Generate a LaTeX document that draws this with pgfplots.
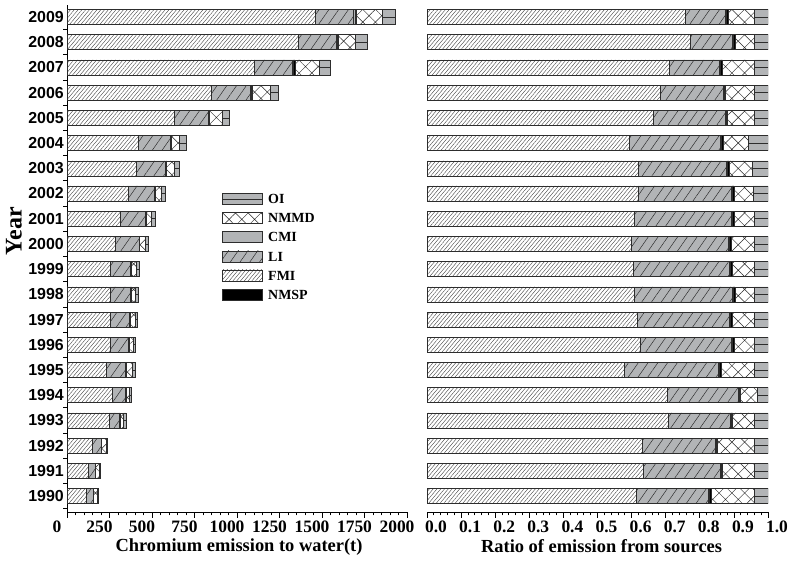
\documentclass[border=0pt]{standalone}
\usepackage{pgfplots}
\pgfplotsset{compat=1.18}
\usepackage{pgfplotstable}
\usetikzlibrary{patterns.meta}
\usepackage{fontspec}
\setmainfont{Liberation Serif}
\newfontfamily\arialf{Liberation Sans}

\definecolor{barg}{RGB}{178,180,182}
\definecolor{edge}{RGB}{45,45,45}

% Chromium emission to water (t)
\pgfplotstableread{
year FMI LI CMI NMSP NMMD OI
1990 113 39 1 1 23 7
1991 123 44 1 1 18 8
1992 150 50 1 1 26 9
1993 246 63 1 1 22 14
1994 266 79 1 2 19 12
1995 232 111 2 2 39 16
1996 253 107 2 2 24 16
1997 256 112 2 2 27 17
1998 253 119 2 2 24 17
1999 255 119 2 2 28 17
2000 286 137 2 2 33 19
2001 313 147 2 3 31 21
2002 358 157 2 3 32 25
2003 409 171 3 3 44 31
2004 417 188 3 4 51 41
2005 633 200 3 3 76 38
2006 849 231 4 5 104 50
2007 1100 226 6 8 145 62
2008 1362 219 7 7 101 71
2009 1460 226 8 10 149 77
}\tonnes

% Ratio of emission from sources
\pgfplotstableread{
year FMI LI CMI NMSP NMMD OI
1990 0.615 0.210 0.004 0.006 0.125 0.040
1991 0.634 0.225 0.003 0.004 0.094 0.040
1992 0.632 0.213 0.003 0.003 0.109 0.040
1993 0.708 0.181 0.003 0.004 0.064 0.040
1994 0.705 0.208 0.003 0.004 0.049 0.031
1995 0.578 0.275 0.004 0.005 0.098 0.040
1996 0.625 0.266 0.004 0.005 0.060 0.040
1997 0.616 0.270 0.004 0.005 0.065 0.040
1998 0.607 0.287 0.004 0.005 0.057 0.040
1999 0.604 0.282 0.004 0.004 0.066 0.040
2000 0.598 0.285 0.004 0.004 0.069 0.040
2001 0.607 0.284 0.004 0.005 0.060 0.040
2002 0.619 0.272 0.004 0.005 0.056 0.044
2003 0.619 0.258 0.004 0.005 0.067 0.047
2004 0.592 0.267 0.004 0.005 0.073 0.059
2005 0.664 0.210 0.003 0.003 0.080 0.040
2006 0.683 0.186 0.003 0.004 0.084 0.040
2007 0.711 0.146 0.004 0.005 0.094 0.040
2008 0.771 0.124 0.004 0.004 0.057 0.040
2009 0.757 0.117 0.004 0.005 0.077 0.040
}\ratios

\tikzset{
  fmi/.style={fill=white, postaction={pattern={Lines[angle=50,distance=2.9bp,line width=0.35bp]}, pattern color=black!80}},
  li/.style={fill=barg, postaction={pattern={Lines[angle=55,distance=8bp,line width=0.45bp]}, pattern color=black!85}},
  cmi/.style={fill=barg},
  nmsp/.style={fill=black},
  nmmd/.style={fill=white, postaction={pattern={Hatch[angle=45,distance=9bp,line width=0.45bp]}, pattern color=black!85}},
  oi/.style={fill=barg},
}

\pgfplotsset{
  swatch/.style={legend image code/.code={\draw[##1, draw=edge, line width=0.5bp] (0bp,-5.5bp) rectangle (40bp,5.5bp); \path (44bp,0bp);}},
  oiswatch/.style={legend image code/.code={\draw[##1, draw=edge, line width=0.5bp] (0bp,-5.5bp) rectangle (40bp,5.5bp); \draw[edge, line width=0.5bp] (0bp,0bp)--(40bp,0bp); \path (44bp,0bp);}},
  common/.style={
    scale only axis, height=507bp,
    ymin=1989.365, ymax=2009.476,
    xbar stacked, bar width=15bp,
    tick align=outside,
    major tick length=6bp, minor tick length=3.5bp,
    axis line style={line width=1bp, black},
    every tick/.style={black, line width=0.8bp},
    /pgf/number format/assume math mode=true,
    /pgf/number format/1000 sep={},
    xticklabel style={font=\bfseries\fontsize{17.5}{17.5}\selectfont, inner sep=0pt, yshift=-3bp},
    xlabel style={font=\bfseries\fontsize{18.5}{18.5}\selectfont},
    every axis plot/.append style={draw=edge, line width=0.5bp},
  },
}

\begin{document}
\begin{tikzpicture}
\useasboundingbox (0,0) rectangle (793bp,563bp);

% ---------------- left panel ----------------
\begin{axis}[common,
  at={(67bp,51bp)}, anchor=south west,
  width=340bp,
  xmin=0, xmax=2000,
  axis x line*=bottom, axis y line*=left,
  xtick={0,250,...,2000}, minor x tick num=4,
  xticklabel style={xshift=-10bp},
  ytick={1990,...,2009}, minor ytick={1989.5,1990.5,...,2009.5},
  major y tick style={draw=none},
  yticklabel style={font=\arialf\bfseries\fontsize{16}{16}\selectfont, inner sep=0pt, xshift=3bp},
  xlabel={Chromium emission to water(t)},
  xlabel style={at={(axis description cs:0.506,-0.069)}, anchor=center},
  ylabel={Year},
  ylabel style={font=\bfseries\fontsize{24}{24}\selectfont, at={(axis description cs:-0.156,0.554)}, anchor=center},
  legend entries={OI,NMMD,CMI,LI,FMI,NMSP},
  legend cell align=left,
  legend style={draw=none, fill=none, at={(axis description cs:0.456,0.63)}, anchor=north west,
    font=\bfseries\fontsize{14}{14}\selectfont, row sep=6.6bp, inner sep=0pt,
    nodes={inner sep=1.5bp, text height=9.5bp, text depth=0bp}},
]
\addlegendimage{oiswatch, oi}
\addlegendimage{swatch, nmmd}
\addlegendimage{swatch, cmi}
\addlegendimage{swatch, li}
\addlegendimage{swatch, fmi}
\addlegendimage{swatch, nmsp}

\addplot[fmi]  table[x=FMI,  y=year] {\tonnes};
\addplot[li]   table[x=LI,   y=year] {\tonnes};
\addplot[cmi]  table[x=CMI,  y=year] {\tonnes};
\addplot[nmsp] table[x=NMSP, y=year] {\tonnes};
\addplot[nmmd] table[x=NMMD, y=year] {\tonnes};
\addplot[oi, error bars/.cd, x dir=minus, x explicit, error mark=none,
  error bar style={draw=edge, line width=0.5bp}]
  table[x=OI, y=year, x error=OI] {\tonnes};
\end{axis}

% ---------------- right panel ----------------
\begin{axis}[common,
  at={(427bp,51bp)}, anchor=south west,
  width=341bp,
  xmin=0, xmax=1,
  axis x line*=bottom, axis y line=none,
  ytick=\empty,
  xtick={0,0.1,0.2,0.3,0.4,0.5,0.6,0.7,0.8,0.9,1.0}, minor x tick num=4,
  xticklabel style={xshift=9bp, /pgf/number format/.cd, fixed, fixed zerofill, precision=1},
  xlabel={Ratio of emission from sources},
  xlabel style={at={(axis description cs:0.512,-0.067)}, anchor=center},
]
\addplot[fmi]  table[x=FMI,  y=year] {\ratios};
\addplot[li]   table[x=LI,   y=year] {\ratios};
\addplot[cmi]  table[x=CMI,  y=year] {\ratios};
\addplot[nmsp] table[x=NMSP, y=year] {\ratios};
\addplot[nmmd] table[x=NMMD, y=year] {\ratios};
\addplot[oi, error bars/.cd, x dir=minus, x explicit, error mark=none,
  error bar style={draw=edge, line width=0.5bp}]
  table[x=OI, y=year, x error=OI] {\ratios};
\end{axis}
\end{tikzpicture}
\end{document}
